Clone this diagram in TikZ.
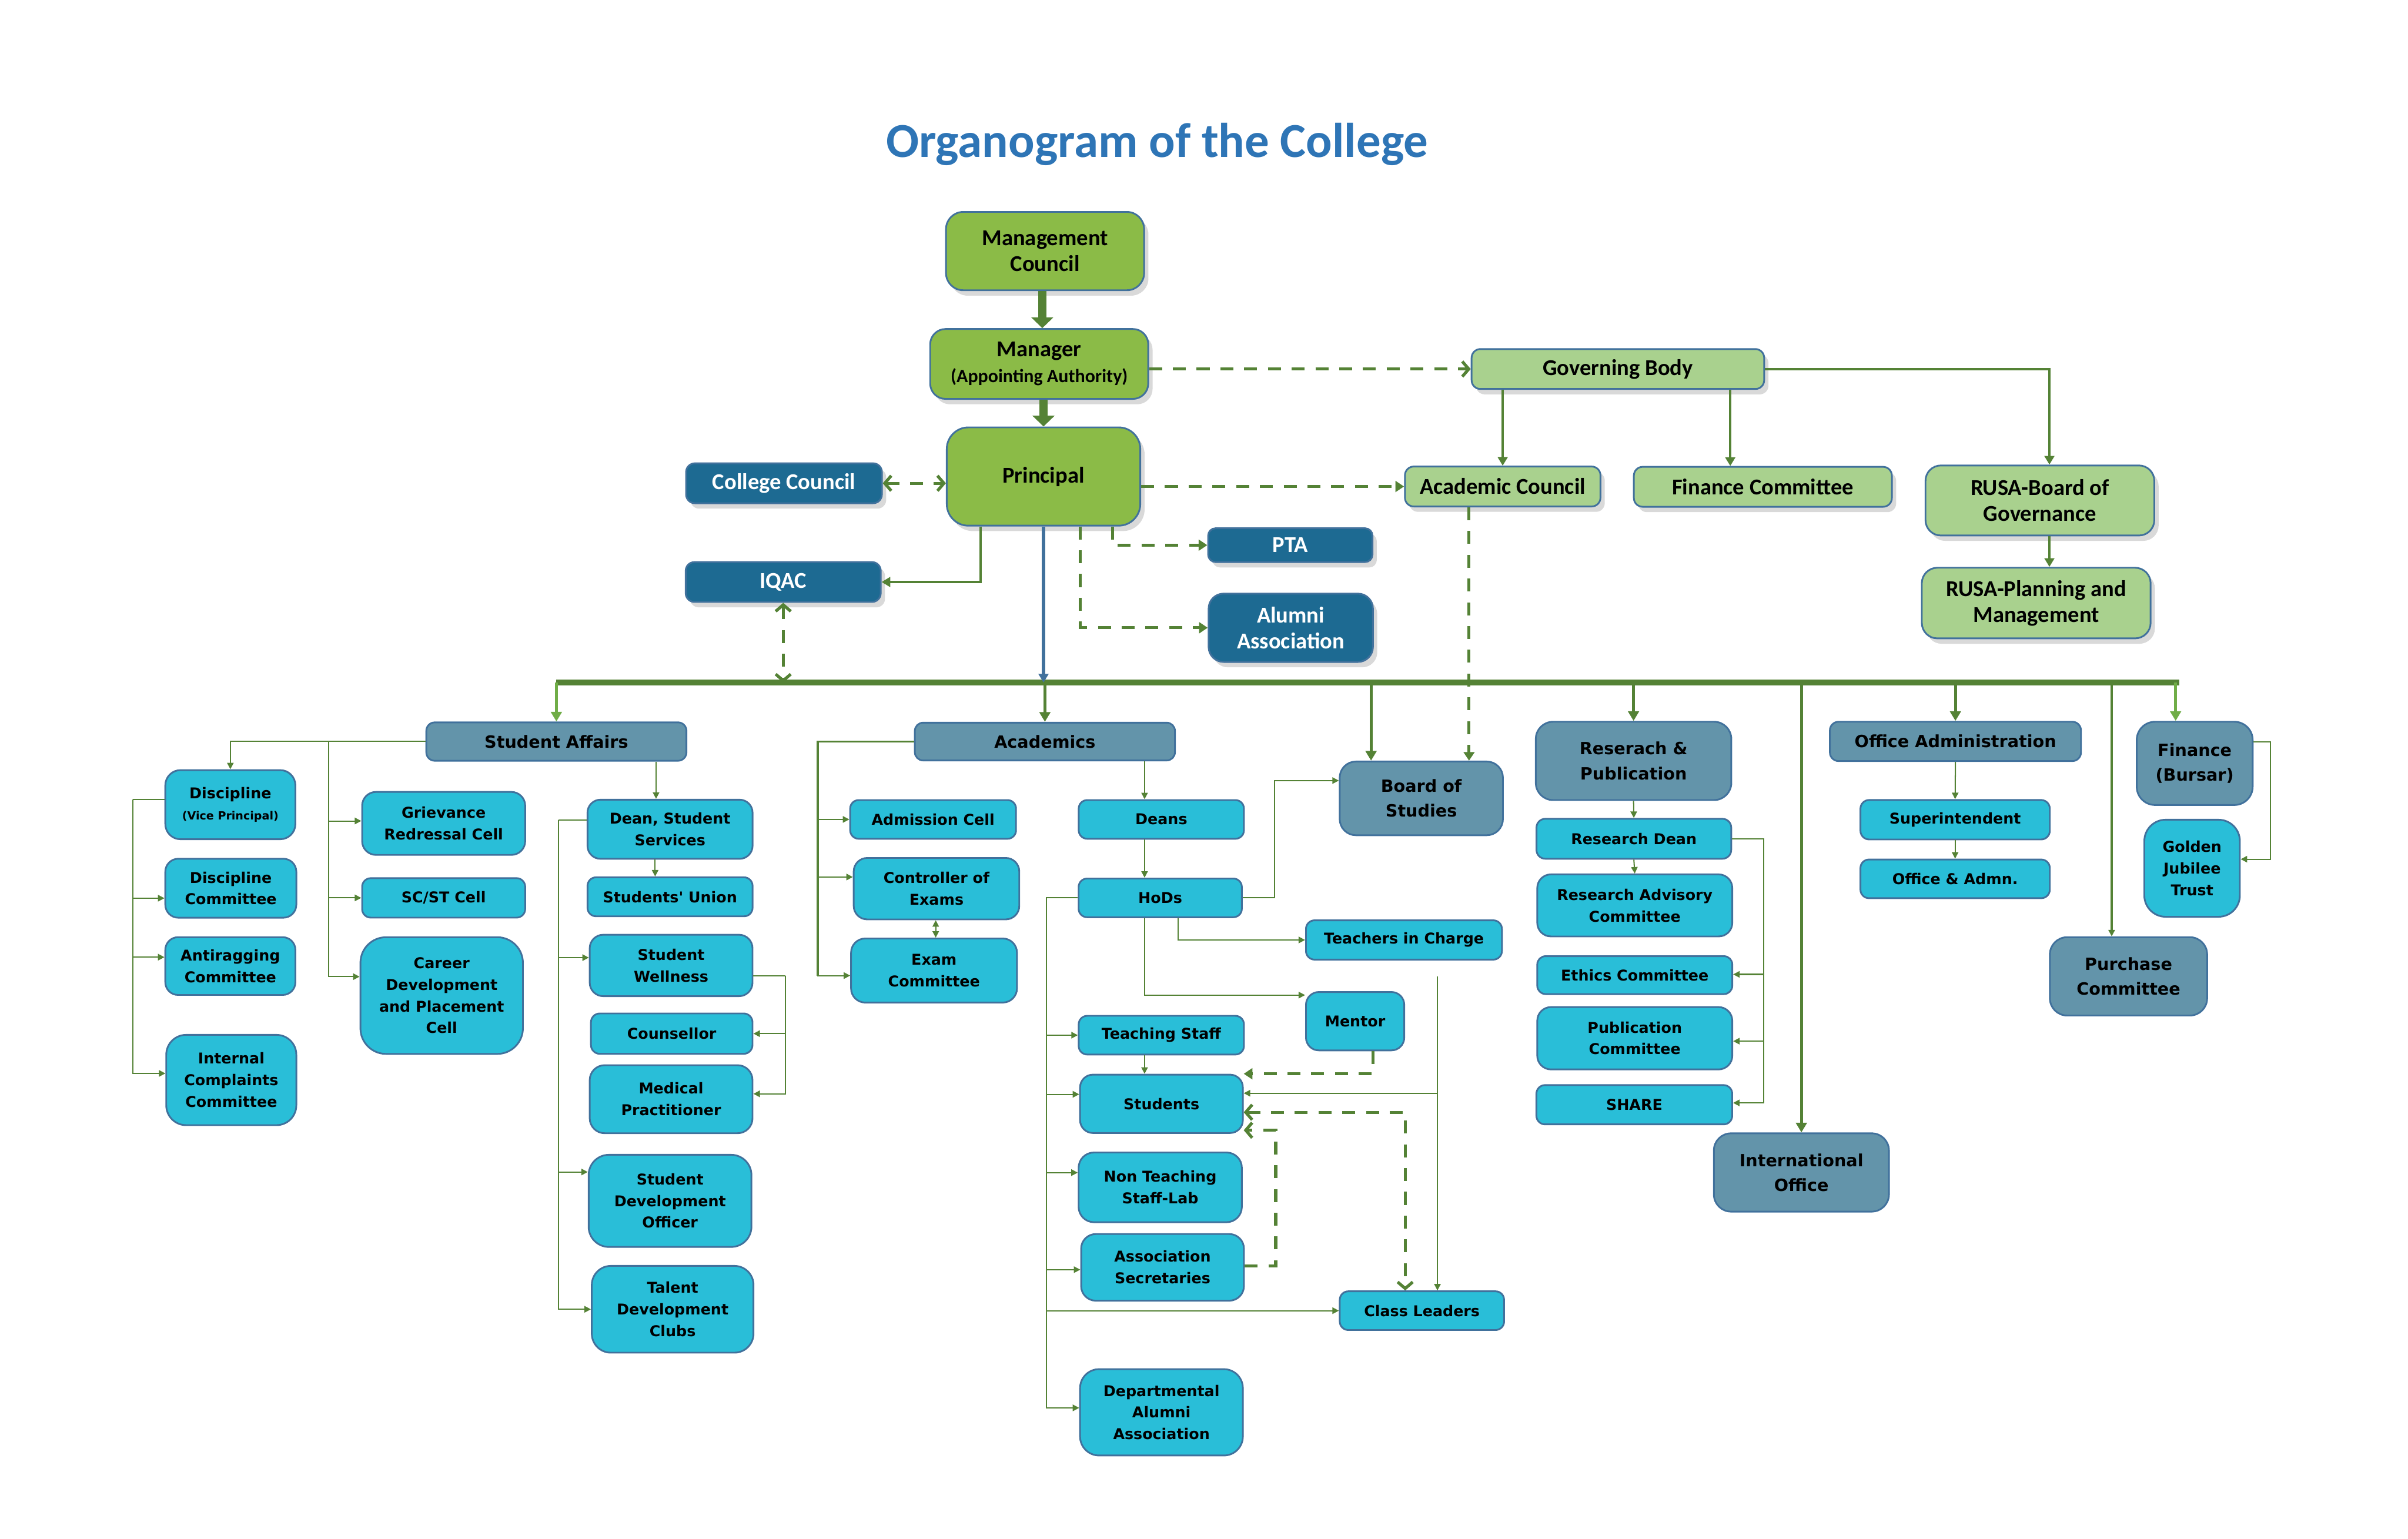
\documentclass[tikz,border=0pt]{standalone}
\usepackage{fontspec}
\usepackage{tikz}
\usetikzlibrary{arrows.meta,calc,shadows}
\newfontfamily\calib{Carlito}
\newfontfamily\verd{DejaVu Sans}
\definecolor{topgreen}{HTML}{8BBB47}
\definecolor{govgreen}{HTML}{A9D18E}
\definecolor{darkblue}{HTML}{1D6A92}
\definecolor{steel}{HTML}{6394AA}
\definecolor{cellcyan}{HTML}{29BED8}
\definecolor{boxline}{HTML}{41719C}
\definecolor{linegreen}{HTML}{548235}
\definecolor{lightgreen}{HTML}{70AD47}
\definecolor{titleblue}{HTML}{2E75B6}

\begin{document}
\begin{tikzpicture}[x=0.025cm,y=-0.025cm,
  sz/.style 2 args={minimum width=#1*0.025cm,minimum height=#2*0.025cm,rounded corners=#2*0.0055cm},
  basebox/.style={draw=boxline,line width=0.8pt,align=center,inner sep=1pt},
  topbox/.style={basebox,fill=topgreen,font=\calib\bfseries\fontsize{10.5}{12}\selectfont,
    drop shadow={shadow xshift=2pt,shadow yshift=-2.5pt,opacity=0.3}},
  govbox/.style={topbox,fill=govgreen},
  darkbox/.style={topbox,fill=darkblue,text=white},
  headbox/.style={basebox,fill=steel,font=\verd\bfseries\fontsize{7.8}{11.5}\selectfont},
  cellbox/.style={basebox,fill=cellcyan,font=\verd\bfseries\fontsize{6.9}{10}\selectfont},
  spine/.style={draw=linegreen,line width=4pt,-{Triangle[length=5pt,width=10pt]}},
  busline/.style={draw=linegreen,line width=2.8pt},
  busarrow/.style={draw=linegreen,line width=1.4pt,-{Triangle[length=4.5pt,width=5pt]}},
  govlink/.style={draw=linegreen,line width=1.1pt,-{Triangle[length=4pt,width=4.5pt]}},
  thinlink/.style={draw=linegreen,line width=0.55pt},
  arr/.style={-{Triangle[length=3pt,width=3pt]}},
  dashlink/.style={draw=linegreen,line width=1.4pt,dash pattern=on 6pt off 5pt},
  filarr/.style={-{Triangle[length=4pt,width=5pt]}},
  openarr/.style={-{Straight Barb[length=3pt,width=7pt]}},
  biarr/.style={{Straight Barb[length=3pt,width=7pt]}-{Straight Barb[length=3pt,width=7pt]}}]
\useasboundingbox (0,0) rectangle (1568,1002);

\node[font=\calib\bfseries\fontsize{22.6}{26}\selectfont,text=titleblue] (title) at (753.5,94) {Organogram of the College};

\node[topbox,sz={129}{51}] (mgmt) at (680.5,163.5) {Management\\Council};
\node[topbox,sz={142}{45.5}] (manager) at (676.7,237) {Manager\\{\fontsize{8.7}{10}\selectfont(Appointing Authority)}};
\node[topbox,sz={126}{64}] (principal) at (679.5,310.3) {Principal};
\node[darkbox,sz={127.5}{26}] (ccouncil) at (510.5,314.7) {College Council};
\node[darkbox,sz={127}{26}] (iqac) at (510,379) {IQAC};
\node[darkbox,sz={107}{22}] (pta) at (840.2,355) {PTA};
\node[darkbox,sz={107}{44.5}] (alumni) at (840.5,408.8) {Alumni\\Association};
\node[govbox,sz={190.5}{26}] (govbody) at (1053.5,240.3) {Governing Body};
\node[govbox,sz={127.3}{26}] (accouncil) at (978.5,316.8) {Academic Council};
\node[govbox,sz={168}{26}] (fincom) at (1147.9,317) {Finance Committee};
\node[govbox,sz={149}{45.6}] (rusab) at (1328.3,325.9) {RUSA-Board of\\Governance};
\node[govbox,sz={149}{46}] (rusap) at (1325.9,392.7) {RUSA-Planning and\\Management};

\node[headbox,sz={169.4}{25}] (stuaff) at (362.3,482.9) {Student Affairs};
\node[cellbox,sz={84.7}{45}] (discvp) at (150,524) {Discipline\\{\fontsize{5.2}{7}\selectfont(Vice Principal)}};
\node[cellbox,sz={85.3}{38.4}] (disccom) at (150.3,578.4) {Discipline\\Committee};
\node[cellbox,sz={84.7}{37.6}] (antirag) at (150,629.1) {Antiragging\\Committee};
\node[cellbox,sz={84.7}{58.8}] (icc) at (150.6,703.3) {Internal\\Complaints\\Committee};
\node[cellbox,sz={106.2}{41}] (grc) at (288.9,536.2) {Grievance\\Redressal Cell};
\node[cellbox,sz={106.2}{25.7}] (scst) at (288.9,584.7) {SC/ST Cell};
\node[cellbox,sz={105.8}{76}] (career) at (287.6,648.3) {Career\\Development\\and Placement\\Cell};
\node[cellbox,sz={107.5}{38.5}] (dean) at (436.3,540) {Dean, Student\\Services};
\node[cellbox,sz={107.5}{25.4}] (union) at (436.3,584) {Students' Union};
\node[cellbox,sz={106}{40}] (wellness) at (437,628.7) {Student\\Wellness};
\node[cellbox,sz={105.2}{26.3}] (counsellor) at (437.4,673.1) {Counsellor};
\node[cellbox,sz={106}{44.3}] (medical) at (437,715.8) {Medical\\Practitioner};
\node[cellbox,sz={106}{60}] (sdo) at (436.3,782) {Student\\Development\\Officer};
\node[cellbox,sz={105.3}{56.5}] (talent) at (438,852.6) {Talent\\Development\\Clubs};

\node[headbox,sz={169.4}{24.6}] (academics) at (680.4,482.9) {Academics};
\node[cellbox,sz={108}{25.2}] (admission) at (607.6,533.6) {Admission Cell};
\node[cellbox,sz={107.8}{40}] (coe) at (609.8,578.7) {Controller of\\Exams};
\node[cellbox,sz={108}{41.7}] (examcom) at (608.2,632) {Exam\\Committee};
\node[cellbox,sz={107.6}{25.2}] (deans) at (756.2,533.6) {Deans};
\node[cellbox,sz={106.3}{25.2}] (hods) at (755.5,584.7) {HoDs};
\node[headbox,sz={106.3}{48}] (bos) at (925.5,519.9) {Board of\\Studies};
\node[cellbox,sz={127.6}{25.6}] (tic) at (914.2,612.1) {Teachers in Charge};
\node[cellbox,sz={64}{38}] (mentor) at (882.4,665) {Mentor};
\node[cellbox,sz={107.6}{25.2}] (tstaff) at (756.2,674.1) {Teaching Staff};
\node[cellbox,sz={106}{38}] (students) at (756.3,718.8) {Students};
\node[cellbox,sz={106.3}{45.4}] (ntstaff) at (755.5,773.2) {Non Teaching\\Staff-Lab};
\node[cellbox,sz={106}{43.4}] (asec) at (757,825.3) {Association\\Secretaries};
\node[cellbox,sz={107}{25.2}] (cleaders) at (925.9,853.5) {Class Leaders};
\node[cellbox,sz={106}{56.2}] (daa) at (756.3,919.7) {Departmental\\Alumni\\Association};

\node[headbox,sz={127.3}{51}] (rnp) at (1063.7,495.5) {Reserach \&\\Publication};
\node[cellbox,sz={126.8}{26}] (rdean) at (1063.9,546.2) {Research Dean};
\node[cellbox,sz={127}{40.4}] (rac) at (1064.5,589.6) {Research Advisory\\Committee};
\node[cellbox,sz={127}{24.7}] (ethics) at (1064.5,635) {Ethics Committee};
\node[cellbox,sz={127}{40.6}] (pubcom) at (1064.5,676.1) {Publication\\Committee};
\node[cellbox,sz={127.5}{25.6}] (share) at (1064.2,719.4) {SHARE};
\node[headbox,sz={114}{51}] (intl) at (1173,763.5) {International\\Office};
\node[headbox,sz={163.5}{25.6}] (offadm) at (1273.3,482.8) {Office Administration};
\node[cellbox,sz={123.3}{25.7}] (supt) at (1273.1,533.8) {Superintendent};
\node[cellbox,sz={123.3}{25.2}] (offadmn) at (1273.1,572.3) {Office \& Admn.};
\node[headbox,sz={75.5}{54.2}] (finance) at (1429.1,497.1) {Finance\\(Bursar)};
\node[cellbox,sz={62.2}{63.2}] (gjt) at (1427.4,565.4) {Golden\\Jubilee\\Trust};
\node[headbox,sz={102.4}{51}] (purchase) at (1386,635.8) {Purchase\\Committee};

\draw[spine] (mgmt.south -| 678.7,0) -- (manager.north -| 678.7,0);
\draw[spine] (manager.south -| principal.north) -- (principal.north);
\draw[dashlink,openarr] (manager.east |- govbody.west) -- (govbody.west);
\draw[dashlink,biarr] (ccouncil.east) -- (ccouncil.east -| principal.west);
\draw[dashlink,filarr] (principal.east |- accouncil.west) -- (accouncil.west);
\draw[govlink] ($(principal.south)+(-41,0)$) |- (iqac.east);
\draw[dashlink,filarr] ($(principal.south)+(45,0)$) |- (pta.west);
\draw[dashlink,filarr] ($(principal.south)+(24,0)$) |- (alumni.west);
\draw[govlink] (govbody.south -| accouncil.north) -- (accouncil.north);
\coordinate (gbf) at ($(govbody.south west)+(169,0)$);
\draw[govlink] (gbf) -- (gbf |- fincom.north);
\coordinate (rusain) at ($(rusab.north)+(6.2,0)$);
\draw[govlink] (govbody.east) -| (rusain);
\draw[govlink] (rusain |- rusab.south) -- (rusain |- rusap.north);
\coordinate (acfoot) at ($(accouncil.south west)+(42.3,0)$);
\draw[dashlink,filarr] (acfoot) -- (acfoot |- bos.north);

\coordinate (busL) at (stuaff.north |- 0,444.5);
\coordinate (busR) at (1419,444.5);
\draw[busline] (busL) -- (busR);
\draw[dashlink,biarr] (iqac.south) -- (iqac.south |- busL);
\draw[draw=boxline,line width=1.4pt,-{Triangle[length=4pt,width=4.5pt]}] (principal.south) -- (principal.south |- busL);
\draw[busarrow,draw=lightgreen] (busL) -- (stuaff.north);
\draw[busarrow] (academics.north |- busL) -- (academics.north);
\coordinate (bosA) at ($(bos.north west)+(21,0)$);
\draw[busarrow] (bosA |- busL) -- (bosA);
\draw[busarrow] (rnp.north |- busL) -- (rnp.north);
\draw[busarrow] (intl.north |- busL) -- (intl.north);
\draw[busarrow] (offadm.north |- busL) -- (offadm.north);
\coordinate (purA) at ($(purchase.north west)+(40.8,0)$);
\draw[thinlink,arr,line width=0.9pt] (purA |- busL) -- (purA);
\coordinate (finA) at ($(finance.north west)+(25.9,0)$);
\draw[busarrow,draw=lightgreen] (finA |- busL) -- (finA);

\coordinate (saL) at (stuaff.west -| 214.1,0);
\draw[thinlink,arr] (stuaff.west) -| (discvp.north);
\draw[thinlink,arr] (saL) |- (grc.west |- 0,534.6);
\draw[thinlink,arr] (saL) |- (scst.west);
\draw[thinlink,arr] (saL) |- (career.west |- 0,636);
\coordinate (dvL) at (86.6,520.7);
\draw[thinlink] (discvp.west |- dvL) -- (dvL);
\draw[thinlink,arr] (dvL) |- (disccom.west |- 0,584.9);
\draw[thinlink,arr] (dvL) |- (antirag.west |- 0,623.3);
\draw[thinlink,arr] (dvL) |- (icc.west |- 0,699);
\coordinate (saD) at (stuaff.south -| 427.2,0);
\draw[thinlink,arr] (saD) -- (saD |- dean.north);
\draw[thinlink,arr] (dean.south -| 426.6,0) -- (union.north -| 426.6,0);
\coordinate (dnL) at (363.7,534);
\draw[thinlink] (dean.west |- dnL) -- (dnL);
\draw[thinlink,arr] (dnL) |- (wellness.west |- 0,623.6);
\draw[thinlink,arr] (dnL) |- (sdo.west |- 0,763.2);
\draw[thinlink,arr] (dnL) |- (talent.west);
\coordinate (wlR) at (511.3,635.4);
\draw[thinlink] (wellness.east |- wlR) -- (wlR);
\draw[thinlink,arr] (wlR) |- (counsellor.east);
\draw[thinlink,arr] (wlR) |- (medical.east |- 0,712.3);

\coordinate (acL) at (academics.west -| 532.4,0);
\draw[thinlink,line width=1pt] (academics.west) -- (acL) -- (acL |- 0,635.3);
\draw[thinlink,arr] (acL) |- (admission.west);
\draw[thinlink,arr] (acL) |- (coe.west |- 0,571.1);
\draw[thinlink,arr] (acL) |- (examcom.west |- 0,635.3);
\draw[thinlink,{Triangle[length=3pt,width=3pt]}-{Triangle[length=3pt,width=3pt]}] (coe.south -| 609.3,0) -- (examcom.north -| 609.3,0);
\coordinate (acD) at (academics.south -| 745.3,0);
\draw[thinlink,arr] (acD) -- (acD |- deans.north);
\draw[thinlink,arr] (deans.south -| acD) -- (hods.north -| acD);
\draw[thinlink,arr] (hods.east) -| (830,508.3) -- (bos.west |- 0,508.3);
\draw[thinlink,arr] (hods.south -| 767.3,0) |- (tic.west);
\draw[thinlink,arr] (hods.south -| acD) |- (mentor.west |- 0,648);
\coordinate (hdL) at (hods.west -| 681.4,0);
\draw[thinlink] (hods.west) -- (hdL) -- (hdL |- 0,916.8);
\draw[thinlink,arr] (hdL) |- (tstaff.west);
\draw[thinlink,arr] (hdL) |- (students.west |- 0,712.6);
\draw[thinlink,arr] (hdL) |- (ntstaff.west |- 0,763.6);
\draw[thinlink,arr] (hdL) |- (asec.west |- 0,826.8);
\draw[thinlink,arr] (hdL) |- (cleaders.west);
\draw[thinlink,arr] (hdL) |- (daa.west |- 0,916.8);
\draw[thinlink,arr] (tstaff.south -| acD) -- (students.north -| acD);
\draw[dashlink,filarr] (mentor.south -| 894,0) |- (students.north east);
\coordinate (ticF) at (936,636);
\draw[thinlink,arr] (ticF) -- (ticF |- cleaders.north);
\draw[thinlink,arr] (ticF |- 0,711.9) -- (students.east |- 0,711.9);
\draw[dashlink,biarr] (students.east |- 0,724.3) -| (cleaders.north -| 915,0);
\draw[dashlink,openarr] (asec.east |- 0,824.4) -| (830.7,736) -- (students.east |- 0,736);

\draw[thinlink,arr] (rnp.south) -- (rdean.north);
\draw[thinlink,arr] (rdean.south) -- (rac.north);
\coordinate (rdR) at (rdean.east -| 1148.6,0);
\draw[thinlink] (rdean.east) -- (rdR) -- (rdR |- 0,718.2);
\draw[thinlink,arr] (rdR) |- (ethics.east |- 0,634.5);
\draw[thinlink,arr] (rdR) |- (pubcom.east |- 0,678);
\draw[thinlink,arr] (rdR) |- (share.east |- 0,718.2);
\draw[thinlink,arr] (offadm.south) -- (supt.north);
\draw[thinlink,arr] (supt.south) -- (offadmn.north);
\coordinate (fnR) at (1478.4,483);
\draw[thinlink,arr] (finance.east |- fnR) -- (fnR) |- (gjt.east |- 0,559.5);
\end{tikzpicture}
\end{document}
